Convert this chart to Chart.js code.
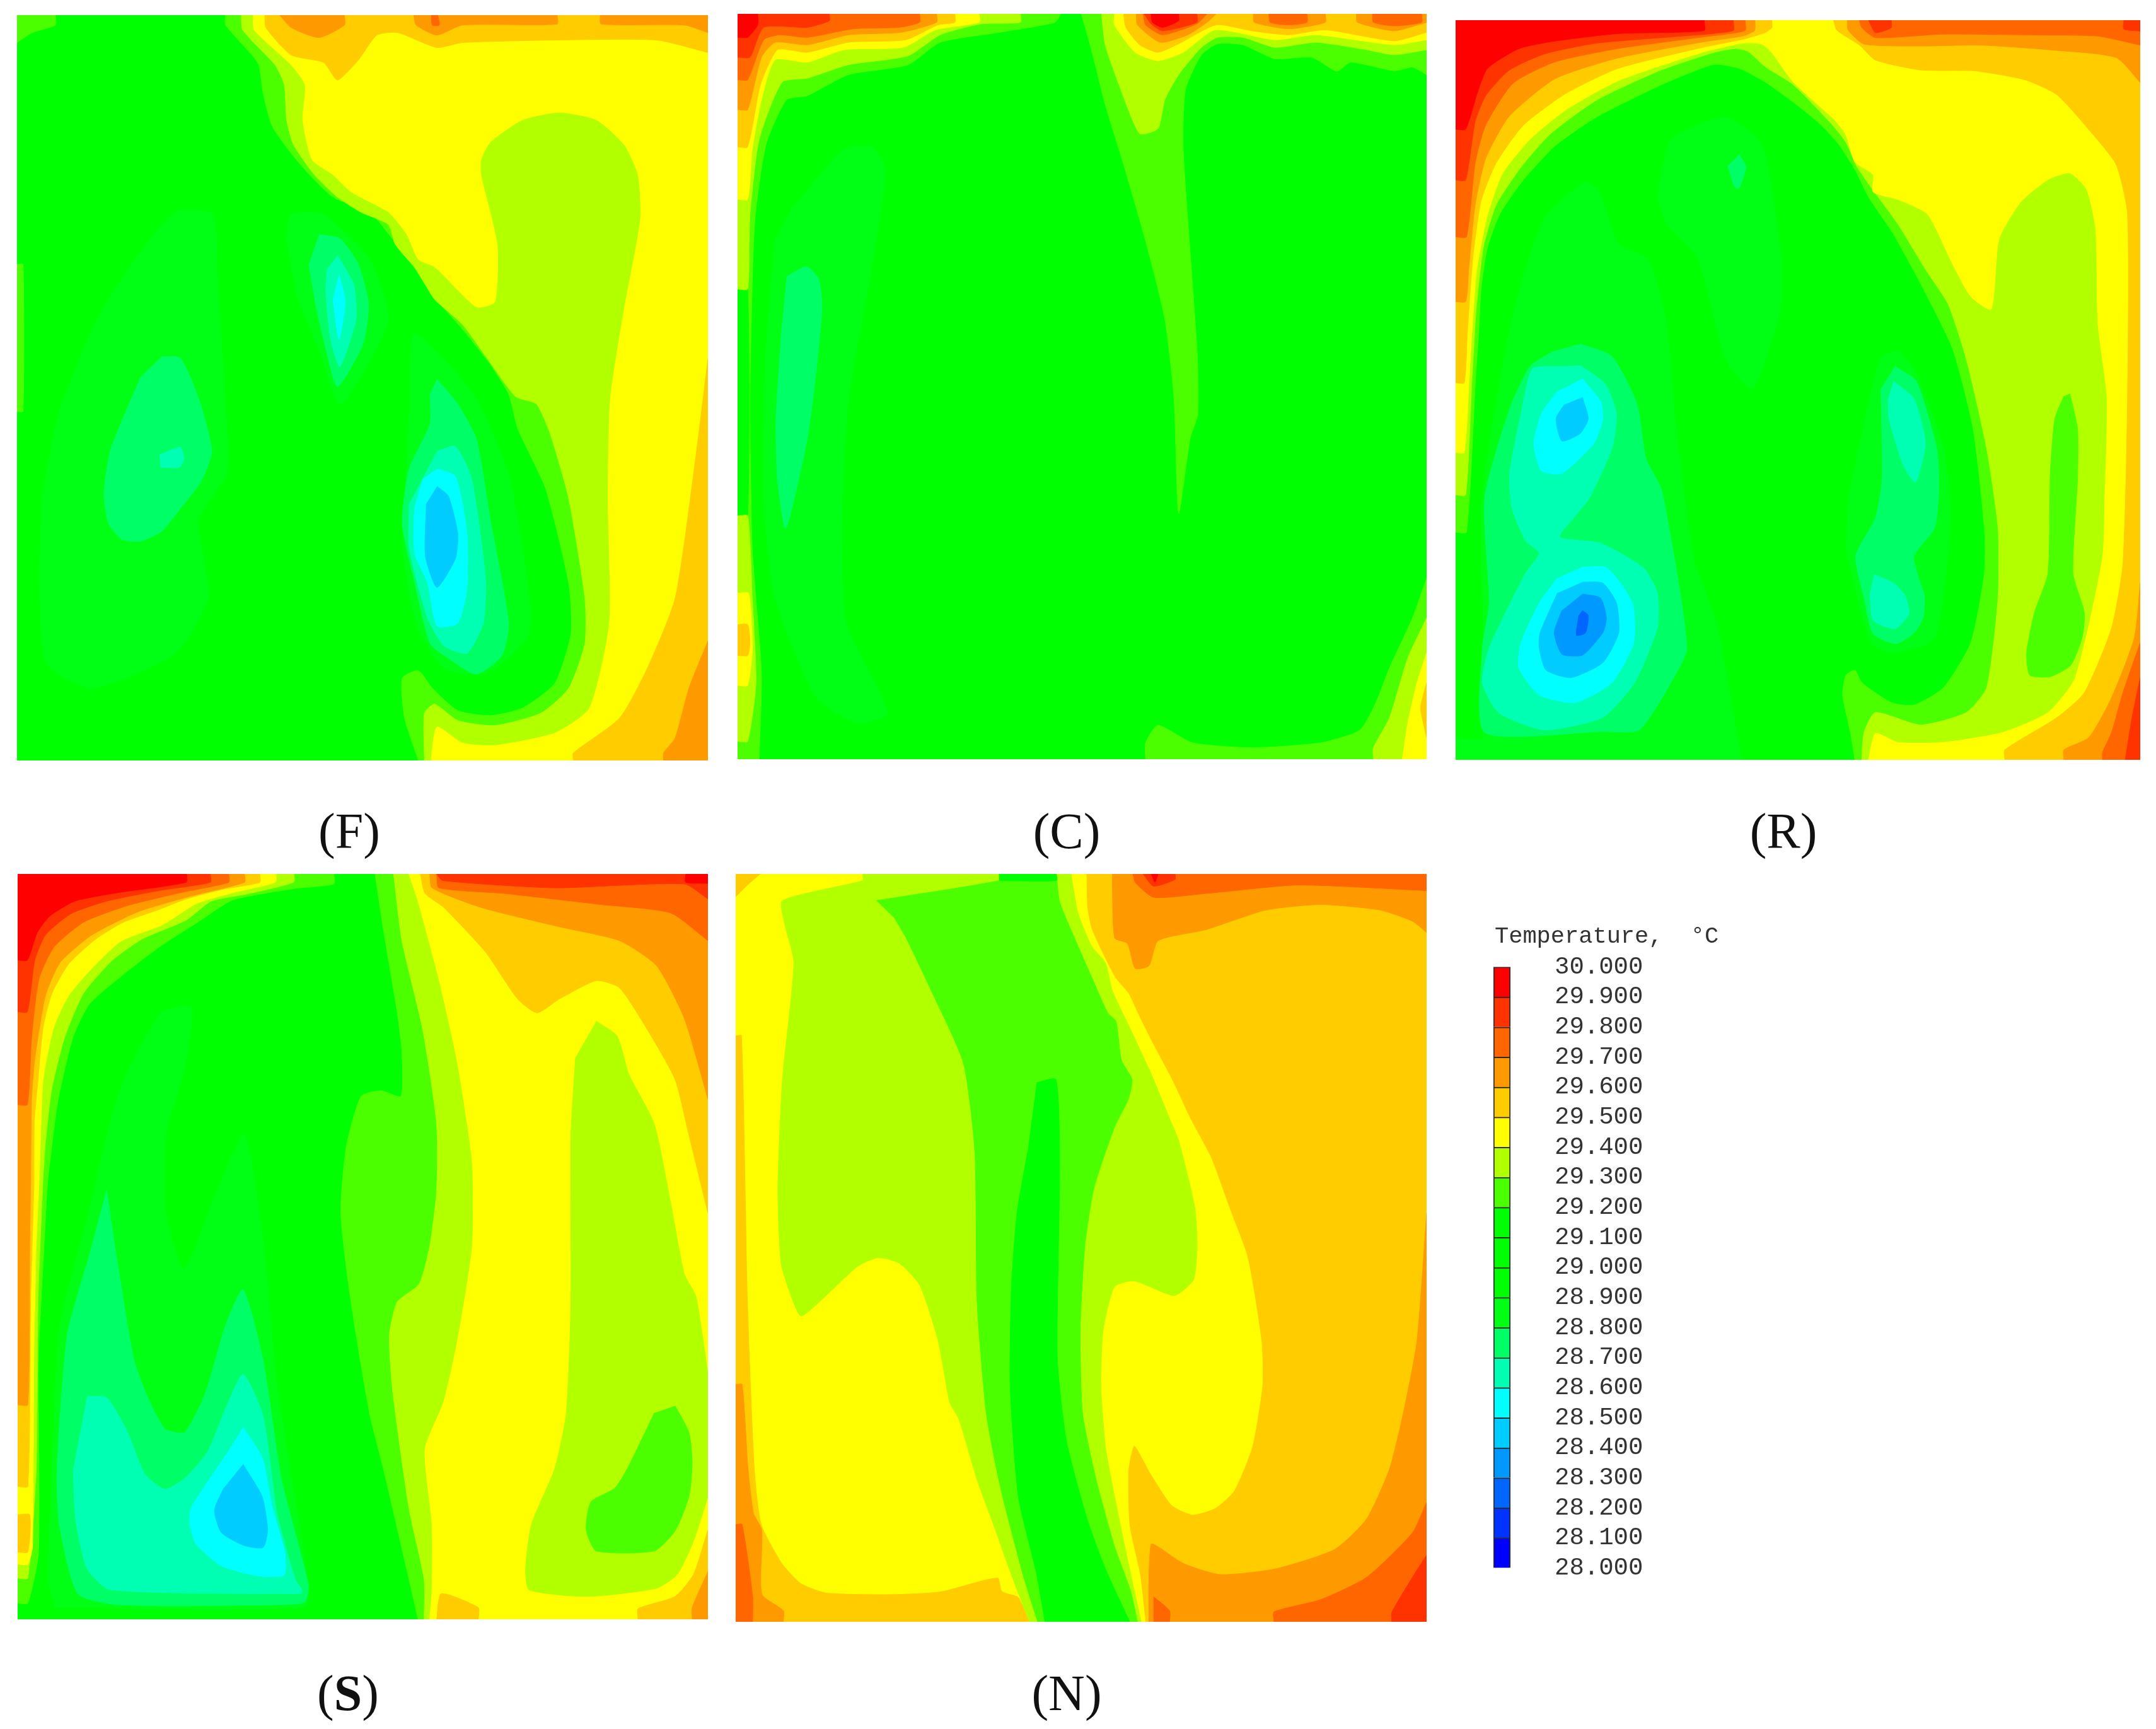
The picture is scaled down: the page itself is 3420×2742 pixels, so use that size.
<!DOCTYPE html>
<html>
<head>
<meta charset="utf-8">
<script src="https://cdn.jsdelivr.net/npm/chart.js@4"></script>
<style>
  html, body { margin: 0; padding: 0; background: #fff; }
  body { position: relative; width: 3420px; height: 2742px; overflow: hidden; }
  canvas { position: absolute; }
  .cap { position: absolute; width: 400px; text-align: center; font: 80px/90px "Liberation Serif", serif; color: #111; }
  #legendTitle { position: absolute; left: 2371px; top: 1464px; font: 37px/42px "Liberation Mono", monospace; color: #333; white-space: pre; }
</style>
</head>
<body>
<canvas id="panelF" width="1096" height="1182" style="left:27px;top:24px"></canvas>
<canvas id="panelC" width="1093" height="1182" style="left:1170px;top:22px"></canvas>
<canvas id="panelR" width="1086" height="1173" style="left:2309px;top:32px"></canvas>
<canvas id="panelS" width="1095" height="1182" style="left:28px;top:1386px"></canvas>
<canvas id="panelN" width="1096" height="1186" style="left:1167px;top:1386px"></canvas>
<canvas id="legendBar" width="270" height="1124" style="left:2360px;top:1448px"></canvas>
<div class="cap" style="left:354px;top:1273px">(F)</div>
<div class="cap" style="left:1492px;top:1273px">(C)</div>
<div class="cap" style="left:2629px;top:1273px">(R)</div>
<div class="cap" style="left:352px;top:2640px">(<b>S</b>)</div>
<div class="cap" style="left:1492px;top:2640px">(N)</div>
<div id="legendTitle">Temperature,  °C</div>
<script>
// colour bands, one per 0.1 degree, lowest first
const legendLevels = [28.0, 28.1, 28.2, 28.3, 28.4, 28.5, 28.6, 28.7, 28.8, 28.9, 29.0, 29.1, 29.2, 29.3, 29.4, 29.5, 29.6, 29.7, 29.8, 29.9];
const legendColors = ['#0000ff', '#0033ff', '#0066ff', '#0099ff', '#00ccff', '#00ffff', '#00ffb2', '#00ff66', '#00ff14', '#00ff00', '#00ff00', '#00ff00', '#4cff00', '#b2ff00', '#ffff00', '#ffcc00', '#ff9900', '#ff6600', '#ff3300', '#ff0000'];

// x min, x max, y min, y max of each cross-section
const extentF = [37, 1531, 30, 1525];
const extentC = [28, 1531, 28, 1523];
const extentR = [26, 1533, 40, 1525];
const extentS = [40, 1531, 30, 1371];
const extentN = [23, 1531, 30, 1375];

const baseF = 29.0, baseC = 29.0, baseR = 29.0, baseS = 29.0, baseN = 29.5;

// [band, contour] back to front
const regionsF = [
  [28.8, [[90,1000],[130,820],[210,640],[300,510],[380,425],[460,430],[470,560],[490,850],[490,950],[430,1040],[440,1120],[450,1200],[380,1310],[200,1380],[100,1330],[85,1150]]],
  [28.8, [[620,480],[630,430],[700,430],[800,520],[840,640],[790,740],[735,810],[690,700],[640,590]]],
  [28.8, [[885,820],[895,670],[960,720],[1030,800],[1100,950],[1145,1200],[1140,1280],[1050,1350],[960,1340],[900,1250],[870,1100]]],
  [29.2, [[488,30],[488,50],[545,110],[560,130],[570,190],[590,255],[650,330],[720,395],[800,425],[850,480],[885,520],[930,585],[1000,660],[1060,730],[1100,790],[1120,860],[1180,980],[1230,1170],[1235,1270],[1200,1370],[1130,1420],[1060,1435],[990,1425],[935,1380],[905,1345],[870,1360],[875,1440],[905,1525],[1531,1525],[1531,30]]],
  [29.3, [[522,30],[525,60],[595,130],[615,170],[620,240],[635,290],[680,350],[730,395],[780,425],[840,450],[855,490],[900,540],[940,600],[1000,650],[1055,720],[1115,795],[1160,810],[1190,870],[1230,1000],[1265,1200],[1265,1290],[1230,1380],[1170,1430],[1070,1455],[990,1445],[940,1412],[918,1430],[918,1525],[1531,1525],[1531,30]]],
  [29.4, [[548,30],[550,60],[630,130],[660,170],[655,240],[675,320],[720,350],[760,385],[840,425],[880,470],[905,520],[940,535],[1030,615],[1070,605],[1075,490],[1040,350],[1040,320],[1060,285],[1130,240],[1210,225],[1290,240],[1350,290],[1380,350],[1385,440],[1350,620],[1320,800],[1315,1000],[1318,1250],[1275,1420],[1200,1470],[1070,1495],[1000,1490],[945,1458],[932,1525],[1531,1525],[1531,30]]],
  [29.5, [[573,30],[575,55],[630,110],[700,125],[730,160],[775,120],[815,70],[860,65],[945,95],[1000,85],[1200,80],[1420,80],[1531,105],[1531,30]]],
  [29.5, [[1531,720],[1500,950],[1460,1200],[1400,1340],[1340,1440],[1240,1510],[1240,1525],[1531,1525]]],
  [29.6, [[605,30],[630,55],[690,75],[745,50],[745,30]]],
  [29.6, [[895,30],[900,50],[945,70],[1000,50],[1205,48],[1205,30]]],
  [29.6, [[1298,30],[1300,48],[1480,50],[1531,65],[1531,30]]],
  [29.6, [[1531,1285],[1490,1380],[1460,1480],[1435,1510],[1435,1525],[1531,1525]]],
  [29.7, [[933,30],[935,50],[950,50],[947,30]]],
  [29.2, [[37,30],[120,30],[120,50],[70,65],[37,85]]],
  [29.2, [[37,530],[50,530],[50,825],[37,825]]],
  [28.7, [[350,715],[390,718],[430,800],[458,905],[435,965],[390,1020],[350,1065],[305,1085],[265,1082],[235,1050],[225,990],[240,900],[305,755]]],
  [28.6, [[345,912],[390,897],[398,920],[388,937],[347,937]]],
  [28.7, [[690,470],[735,478],[775,530],[797,610],[785,690],[730,775],[705,700],[685,620],[668,530]]],
  [28.6, [[730,512],[765,570],[770,640],[735,735],[715,680],[705,590],[707,540]]],
  [28.5, [[733,550],[747,605],[733,680],[720,600]]],
  [28.7, [[945,760],[990,810],[1030,880],[1060,1040],[1100,1250],[1085,1315],[1030,1352],[970,1320],[930,1290],[895,1160],[870,1050],[885,940],[930,850],[930,790]]],
  [28.6, [[945,905],[985,895],[1020,960],[1050,1160],[1045,1250],[1010,1310],[960,1295],[925,1240],[885,1100],[885,1010]]],
  [28.5, [[945,940],[985,955],[1010,1070],[1010,1180],[990,1250],[945,1255],[925,1170],[897,1110],[897,1020],[915,960]]],
  [28.4, [[945,975],[970,995],[990,1070],[985,1120],[945,1178],[920,1115],[922,1010]]]
];

const regionsC = [
  [28.8, [[145,420],[260,300],[320,295],[350,340],[320,540],[270,800],[255,1050],[265,1250],[355,1430],[290,1450],[200,1400],[110,1200],[85,1000],[90,700],[110,480]]],
  [28.7, [[135,555],[178,535],[205,560],[212,620],[195,780],[178,890],[133,1060],[115,960],[112,840],[125,650]]],
  [29.2, [[28,1523],[75,1523],[80,1350],[60,1100],[55,800],[65,450],[90,290],[135,200],[180,192],[270,150],[400,130],[470,85],[600,65],[720,45],[733,28],[28,28]]],
  [29.2, [[778,28],[800,100],[830,210],[870,330],[920,490],[960,640],[980,800],[990,1030],[1015,880],[1032,830],[1030,700],[1000,300],[1005,180],[1040,110],[1075,88],[1130,90],[1200,118],[1280,115],[1335,143],[1365,125],[1460,142],[1500,135],[1531,150],[1531,28]]],
  [29.2, [[1531,1160],[1500,1240],[1450,1340],[1420,1410],[1385,1465],[1300,1490],[1150,1500],[1020,1490],[945,1455],[918,1490],[918,1523],[1531,1523]]],
  [29.0, [[28,580],[50,580],[50,1035],[28,1035]]],
  [29.3, [[28,1487],[50,1487],[68,1370],[60,1200],[50,1035],[28,1035]]],
  [29.4, [[28,1375],[50,1375],[60,1300],[52,1190],[28,1190]]],
  [29.5, [[28,1315],[50,1315],[55,1290],[50,1253],[28,1253]]],
  [29.3, [[28,580],[50,580],[55,430],[75,280],[125,165],[180,157],[270,130],[400,112],[470,70],[560,48],[645,45],[645,28],[28,28]]],
  [29.4, [[28,400],[50,400],[60,300],[80,200],[110,120],[180,125],[260,100],[390,95],[460,60],[555,45],[555,28],[28,28]]],
  [29.5, [[28,295],[50,295],[78,170],[115,100],[180,105],[270,85],[395,80],[465,50],[502,45],[502,28],[28,28]]],
  [29.6, [[28,220],[50,220],[80,115],[110,85],[180,90],[270,70],[385,65],[462,45],[462,28],[28,28]]],
  [29.7, [[28,160],[50,160],[85,80],[120,70],[180,75],[280,58],[380,55],[425,45],[425,28],[28,28]]],
  [29.8, [[28,115],[55,115],[85,55],[180,55],[228,42],[228,28],[28,28]]],
  [29.9, [[28,28],[72,28],[72,50],[50,75],[28,75]]],
  [29.3, [[822,28],[830,90],[860,170],[905,268],[945,258],[960,200],[990,150],[1040,95],[1075,75],[1130,75],[1200,95],[1290,85],[1400,100],[1460,110],[1531,100],[1531,28]]],
  [29.4, [[850,28],[850,50],[895,105],[945,122],[1000,105],[1070,60],[1200,80],[1290,70],[1460,90],[1531,80],[1531,28]]],
  [29.5, [[870,28],[875,55],[905,90],[945,105],[990,88],[1072,50],[1150,62],[1230,70],[1310,60],[1460,82],[1531,65],[1531,28]]],
  [29.6, [[898,28],[900,50],[950,85],[1010,70],[1052,45],[1072,28]]],
  [29.6, [[1153,28],[1155,45],[1230,58],[1310,45],[1310,28]]],
  [29.6, [[1378,28],[1380,45],[1460,62],[1531,45],[1531,28]]],
  [29.7, [[913,28],[918,50],[955,70],[1030,48],[1052,28]]],
  [29.7, [[1187,28],[1190,45],[1230,50],[1270,45],[1270,28]]],
  [29.7, [[1413,28],[1415,45],[1460,52],[1520,45],[1520,28]]],
  [29.8, [[915,28],[930,48],[955,62],[1030,45],[1030,28]]],
  [29.9, [[930,28],[933,45],[955,55],[990,42],[990,28]]],
  [29.3, [[1531,1240],[1490,1320],[1450,1440],[1415,1500],[1415,1523],[1531,1523]]],
  [29.4, [[1531,1310],[1510,1370],[1490,1450],[1478,1523],[1531,1523]]],
  [29.5, [[1531,1370],[1518,1420],[1531,1480]]]
];

const regionsR = [
  [28.8, [[26,1480],[85,1480],[85,1000],[150,640],[220,440],[310,365],[340,380],[385,490],[450,520],[490,650],[510,850],[550,1120],[600,1250],[655,1525],[26,1525]]],
  [28.8, [[470,400],[500,280],[620,235],[700,290],[740,500],[740,620],[680,780],[620,720],[560,520],[490,450]]],
  [28.8, [[890,1000],[960,720],[1000,705],[1040,750],[1100,900],[1115,1050],[1080,1280],[990,1310],[940,1290],[885,1100]]],
  [29.2, [[26,1068],[50,1068],[70,760],[77,665],[82,580],[96,496],[124,428],[175,361],[244,293],[337,234],[476,171],[594,129],[651,137],[707,164],[770,205],[830,250],[870,290],[905,340],[935,395],[990,470],[1050,570],[1120,700],[1165,860],[1190,1060],[1190,1150],[1160,1290],[1100,1380],[1035,1415],[985,1410],[920,1370],[905,1345],[885,1355],[878,1395],[895,1470],[905,1525],[1533,1525],[1533,40],[26,40]]],
  [29.3, [[26,993],[48,993],[62,760],[68,665],[71,622],[87,496],[115,411],[170,335],[235,268],[337,200],[476,141],[594,105],[642,97],[670,103],[707,133],[770,170],[855,250],[885,285],[910,335],[940,375],[1000,450],[1060,540],[1110,610],[1150,720],[1195,900],[1220,1060],[1220,1200],[1195,1380],[1150,1430],[1050,1455],[950,1430],[925,1470],[920,1525],[1533,1525],[1533,40],[26,40]]],
  [29.4, [[26,908],[45,908],[56,760],[62,665],[73,538],[96,432],[129,348],[189,280],[267,221],[383,162],[568,105],[660,86],[700,88],[722,105],[770,165],[860,240],[885,270],[905,325],[945,350],[945,385],[1000,400],[1065,430],[1120,530],[1160,595],[1205,620],[1222,480],[1270,405],[1330,360],[1378,347],[1415,380],[1435,460],[1440,650],[1460,800],[1455,1000],[1450,1120],[1390,1360],[1330,1430],[1230,1470],[1100,1490],[1000,1490],[950,1472],[935,1525],[1533,1525],[1533,40],[26,40]]],
  [29.5, [[26,768],[45,768],[52,665],[64,517],[82,403],[115,327],[175,251],[267,188],[383,137],[568,95],[660,78],[707,65],[722,55],[722,40],[26,40]]],
  [29.6, [[26,605],[48,605],[55,538],[69,411],[92,318],[143,234],[244,158],[383,116],[568,84],[656,72],[684,61],[685,40],[26,40]]],
  [29.7, [[26,475],[50,475],[69,327],[92,251],[152,167],[244,124],[383,97],[568,74],[663,61],[663,40],[26,40]]],
  [29.8, [[26,361],[48,361],[69,243],[92,192],[143,141],[221,108],[337,86],[522,72],[637,61],[637,40],[26,40]]],
  [29.9, [[26,40],[573,40],[573,61],[383,67],[244,82],[166,97],[96,137],[73,188],[48,259],[26,259]]],
  [29.5, [[858,40],[865,60],[915,90],[950,120],[1050,140],[1170,142],[1280,160],[1350,190],[1420,260],[1480,330],[1505,430],[1505,800],[1495,1130],[1470,1260],[1410,1390],[1350,1440],[1235,1505],[1235,1525],[1533,1525],[1533,40]]],
  [29.6, [[888,40],[890,60],[925,88],[1050,92],[1180,90],[1340,100],[1480,115],[1533,165],[1533,40]]],
  [29.6, [[1533,1170],[1520,1280],[1470,1400],[1420,1480],[1365,1505],[1365,1525],[1533,1525]]],
  [29.7, [[915,40],[920,55],[950,75],[1100,68],[1320,70],[1440,72],[1533,90],[1533,40]]],
  [29.7, [[1533,1290],[1495,1390],[1470,1470],[1450,1510],[1450,1525],[1533,1525]]],
  [29.8, [[935,40],[950,65],[985,55],[985,40]]],
  [29.8, [[1497,40],[1497,58],[1533,62],[1533,40]]],
  [29.8, [[1533,1360],[1515,1440],[1500,1525],[1533,1525]]],
  [29.2, [[1378,790],[1395,860],[1395,960],[1385,1150],[1410,1230],[1405,1280],[1380,1335],[1335,1358],[1290,1355],[1283,1310],[1300,1230],[1330,1150],[1335,950],[1345,840],[1365,795]]],
  [28.7, [[300,690],[370,715],[425,810],[445,920],[480,985],[535,1300],[500,1370],[430,1465],[350,1468],[90,1470],[85,1300],[100,1210],[90,1000],[145,820],[190,735],[240,705]]],
  [28.6, [[300,733],[355,770],[380,830],[370,900],[320,1000],[285,1040],[255,1078],[345,1090],[440,1140],[470,1190],[470,1260],[420,1370],[350,1440],[220,1465],[120,1430],[85,1370],[100,1300],[180,1150],[210,1110],[180,1085],[150,1020],[145,950],[170,830],[195,740],[250,735]]],
  [28.5, [[305,760],[345,805],[350,840],[330,890],[260,950],[215,945],[198,890],[215,830],[250,785]]],
  [28.4, [[305,797],[318,840],[300,870],[260,885],[247,840],[265,812]]],
  [28.5, [[305,1138],[360,1140],[415,1210],[418,1290],[370,1370],[290,1410],[210,1395],[165,1340],[170,1290],[210,1210],[250,1160]]],
  [28.4, [[305,1168],[350,1170],[380,1210],[385,1270],[350,1330],[280,1360],[225,1345],[210,1300],[212,1270],[250,1190]]],
  [28.3, [[305,1192],[345,1200],[358,1240],[350,1270],[305,1315],[260,1313],[243,1270],[260,1225]]],
  [28.2, [[305,1225],[318,1235],[312,1270],[292,1275],[297,1235]]],
  [28.7, [[650,310],[665,335],[650,377],[640,375],[625,332]]],
  [28.7, [[993,735],[1040,765],[1085,900],[1090,980],[1080,1060],[1035,1115],[1045,1160],[1058,1195],[1055,1240],[1035,1270],[995,1292],[945,1272],[925,1200],[907,1115],[950,1040],[965,960],[962,780]]],
  [28.6, [[990,765],[1035,800],[1060,890],[1038,968],[1010,930],[980,840],[978,800]]],
  [28.6, [[947,1153],[990,1170],[1015,1195],[1024,1232],[993,1262],[945,1245],[938,1190]]]
];

const regionsS = [
  [28.8, [[105,1300],[130,850],[190,650],[260,420],[350,280],[415,270],[400,380],[360,500],[360,640],[400,740],[470,600],[530,500],[570,690],[600,950],[668,1310],[660,1350],[120,1350]]],
  [29.2, [[40,1342],[62,1342],[85,1250],[85,900],[97,700],[104,590],[109,552],[127,438],[159,325],[195,264],[268,211],[345,162],[436,113],[504,77],[640,56],[723,48],[723,30],[40,30]]],
  [29.3, [[40,1297],[62,1297],[80,1100],[84,800],[94,590],[100,514],[113,419],[141,325],[182,245],[245,185],[309,147],[404,113],[458,79],[536,66],[636,45],[637,30],[40,30]]],
  [29.4, [[40,1272],[62,1272],[72,1240],[75,900],[80,700],[86,590],[89,514],[95,400],[118,306],[150,249],[200,200],[263,151],[354,121],[427,83],[504,64],[597,45],[598,30],[40,30]]],
  [29.5, [[40,1250],[62,1250],[66,1183],[40,1183]]],
  [29.5, [[40,1132],[62,1132],[68,800],[75,590],[76,476],[84,400],[95,306],[114,245],[150,192],[209,147],[268,117],[345,94],[404,75],[481,58],[563,45],[563,30],[40,30]]],
  [29.6, [[40,985],[62,985],[66,700],[68,590],[70,438],[77,363],[100,249],[132,189],[200,140],[300,98],[413,70],[530,45],[530,30],[40,30]]],
  [29.7, [[40,445],[61,445],[70,325],[86,219],[118,162],[182,117],[277,87],[390,64],[496,45],[496,30],[40,30]]],
  [29.8, [[40,278],[61,278],[77,185],[100,140],[154,102],[232,79],[345,60],[456,45],[456,30],[40,30]]],
  [29.9, [[40,30],[405,30],[404,45],[254,64],[163,79],[109,106],[82,136],[61,185],[40,185]]],
  [29.2, [[812,30],[830,130],[860,280],[870,350],[868,430],[825,420],[782,430],[750,520],[738,640],[760,800],[800,1000],[830,1100],[880,1280],[905,1371],[1531,1371],[1531,30]]],
  [29.3, [[852,30],[870,150],[915,310],[945,480],[945,600],[930,700],[907,768],[860,800],[843,860],[850,960],[885,1170],[918,1300],[918,1371],[1531,1371],[1531,30]]],
  [29.4, [[885,30],[905,80],[950,220],[990,370],[1022,550],[1022,700],[990,870],[960,980],[920,1065],[935,1200],[935,1320],[930,1371],[1531,1371],[1531,30]]],
  [29.5, [[910,30],[920,65],[960,90],[1050,170],[1120,255],[1162,280],[1210,255],[1290,222],[1340,235],[1400,310],[1460,400],[1490,500],[1531,640],[1531,30]]],
  [29.5, [[1531,1210],[1500,1290],[1460,1330],[1380,1352],[1380,1371],[1531,1371]]],
  [29.5, [[945,1371],[955,1325],[1035,1350],[1035,1371]]],
  [29.6, [[930,30],[935,55],[1040,90],[1210,125],[1340,150],[1420,195],[1480,290],[1531,435],[1531,30]]],
  [29.6, [[1531,1285],[1497,1350],[1497,1371],[1531,1371]]],
  [29.7, [[945,30],[950,55],[1090,65],[1300,85],[1450,100],[1531,150],[1531,30]]],
  [29.8, [[945,30],[958,42],[1200,55],[1480,48],[1531,75],[1531,30]]],
  [29.9, [[1483,30],[1483,45],[1531,47],[1531,30]]],
  [29.3, [[1290,295],[1335,322],[1360,390],[1415,480],[1450,620],[1480,750],[1505,790],[1531,930],[1531,1150],[1500,1230],[1465,1290],[1420,1315],[1270,1330],[1145,1318],[1137,1280],[1150,1200],[1200,1100],[1225,1000],[1235,800],[1235,500],[1245,360]]],
  [29.2, [[1460,987],[1490,1035],[1497,1090],[1490,1150],[1460,1212],[1415,1248],[1290,1248],[1268,1210],[1278,1160],[1330,1135],[1360,1095],[1415,1000]]],
  [28.7, [[232,598],[250,700],[290,900],[320,970],[358,1028],[400,1035],[445,965],[490,840],[527,778],[570,905],[610,1120],[668,1310],[660,1340],[600,1345],[260,1345],[170,1325],[130,1200],[125,1100],[147,860],[188,735]]],
  [28.6, [[190,970],[232,972],[275,1030],[315,1110],[358,1137],[400,1118],[450,1070],[490,990],[527,930],[570,1005],[600,1180],[640,1300],[655,1320],[650,1325],[240,1318],[190,1280],[165,1190],[160,1100]]],
  [28.5, [[527,1025],[568,1080],[590,1170],[617,1250],[615,1292],[560,1293],[480,1275],[425,1235],[412,1200],[415,1170],[490,1075]]],
  [28.4, [[527,1092],[568,1150],[580,1210],[570,1242],[528,1238],[480,1215],[465,1175],[485,1135]]]
];

const regionsN = [
  [29.4, [[23,320],[37,320],[50,800],[65,1100],[80,1200],[125,1270],[165,1305],[220,1322],[360,1325],[470,1320],[595,1295],[605,1320],[640,1330],[665,1375],[917,1375],[905,1290],[882,1200],[880,1100],[893,1058],[930,1110],[975,1165],[1020,1182],[1070,1170],[1110,1140],[1150,1060],[1172,950],[1170,870],[1140,720],[1100,630],[1060,540],[1015,470],[975,400],[930,330],[900,280],[880,245],[850,215],[800,130],[790,90],[788,30],[78,30],[50,50],[23,72]]],
  [29.3, [[300,30],[300,42],[125,78],[130,120],[150,190],[125,400],[115,600],[122,730],[140,780],[165,825],[205,800],[290,735],[335,720],[380,730],[425,770],[465,870],[490,980],[510,1010],[550,1120],[590,1210],[620,1280],[650,1345],[665,1375],[908,1375],[880,1270],[850,1150],[830,1060],[820,950],[825,850],[850,772],[893,762],[980,788],[1022,760],[1030,700],[1025,630],[990,510],[970,470],[930,390],[885,310],[845,240],[830,190],[800,160],[770,100],[755,30]]],
  [29.2, [[330,78],[598,42],[598,30],[723,30],[730,80],[765,150],[805,225],[835,280],[853,295],[865,365],[888,400],[880,435],[850,485],[805,595],[785,700],[775,850],[780,1000],[810,1120],[850,1240],[885,1320],[900,1375],[682,1375],[650,1290],[600,1130],[570,1000],[550,800],[545,530],[520,370],[450,240],[395,145],[370,110]]],
  [29.0, [[680,405],[722,400],[730,560],[725,900],[745,1050],[790,1190],[830,1280],[883,1375],[698,1375],[680,1290],[640,1150],[622,950],[625,770],[637,640],[660,530]]],
  [29.0, [[598,30],[723,30],[723,42],[598,42]]],
  [29.6, [[845,30],[850,145],[878,155],[895,200],[925,195],[945,150],[1050,130],[1180,95],[1300,85],[1430,95],[1500,115],[1531,135],[1531,30]]],
  [29.6, [[1531,640],[1510,870],[1480,1000],[1450,1100],[1400,1190],[1330,1245],[1200,1280],[1080,1290],[1000,1270],[945,1240],[930,1235],[925,1290],[925,1375],[1531,1375]]],
  [29.6, [[23,948],[37,948],[50,1100],[62,1180],[80,1210],[80,1325],[127,1355],[127,1375],[23,1375]]],
  [29.7, [[890,30],[895,45],[935,72],[1050,65],[1250,50],[1531,60],[1531,30]]],
  [29.7, [[1531,1160],[1500,1215],[1400,1295],[1300,1335],[1198,1357],[1198,1375],[1531,1375]]],
  [29.7, [[935,1330],[970,1355],[970,1375],[935,1375]]],
  [29.7, [[23,1200],[37,1200],[60,1330],[60,1375],[23,1375]]],
  [29.8, [[912,30],[935,52],[982,40],[982,30]]],
  [29.8, [[1531,1255],[1500,1295],[1455,1358],[1455,1375],[1531,1375]]],
  [29.9, [[930,30],[938,45],[945,30]]]
];

function bandColor(band) {
  return legendColors[Math.round((band - 28) * 10)];
}

// contour points lying on the frame get doubled so the spline keeps them sharp
function toPoints(contour, extent) {
  const pts = [];
  contour.forEach(function(p) {
    pts.push({x: p[0], y: p[1]});
    if (p[0] === extent[0] || p[0] === extent[1] || p[1] === extent[2] || p[1] === extent[3]) {
      pts.push({x: p[0], y: p[1]});
    }
  });
  return pts;
}

function drawPanel(id, extent, base, regions) {
  const frame = [[extent[0], extent[2]], [extent[1], extent[2]], [extent[1], extent[3]], [extent[0], extent[3]]];
  const all = [[base, frame]].concat(regions);
  const datasets = all.map(function(r, i) {
    const color = bandColor(r[0]);
    return {
      data: toPoints(r[1], extent),
      showLine: true,
      fill: 'shape',
      tension: 0.2,
      backgroundColor: color,
      borderColor: color,
      borderWidth: 1,
      pointRadius: 0,
      order: all.length - i
    };
  });
  new Chart(document.getElementById(id), {
    type: 'scatter',
    data: {datasets: datasets},
    options: {
      responsive: false,
      animation: false,
      events: [],
      layout: {padding: 0},
      plugins: {legend: {display: false}, tooltip: {enabled: false}},
      scales: {
        x: {type: 'linear', display: false, min: extent[0], max: extent[1]},
        y: {type: 'linear', display: false, min: extent[2], max: extent[3], reverse: true}
      }
    }
  });
}

drawPanel('panelF', extentF, baseF, regionsF);
drawPanel('panelC', extentC, baseC, regionsC);
drawPanel('panelR', extentR, baseR, regionsR);
drawPanel('panelS', extentS, baseS, regionsS);
drawPanel('panelN', extentN, baseN, regionsN);

new Chart(document.getElementById('legendBar'), {
  type: 'bar',
  data: {
    labels: ['T'],
    datasets: legendLevels.map(function(lo, i) {
      return {
        data: [[lo, lo + 0.1]],
        backgroundColor: legendColors[i],
        borderColor: '#2a2a2a',
        borderWidth: 2,
        barPercentage: 1,
        categoryPercentage: 1,
        grouped: false
      };
    })
  },
  options: {
    responsive: false,
    animation: false,
    events: [],
    layout: {padding: {left: 9, right: 0}},
    plugins: {legend: {display: false}, tooltip: {enabled: false}},
    scales: {
      x: {display: false},
      y: {
        position: 'right',
        min: 28,
        max: 30,
        border: {display: false},
        grid: {display: false},
        afterFit: function(axis) { axis.width = 234; },
        ticks: {
          stepSize: 0.1,
          autoSkip: false,
          padding: 62,
          color: '#333',
          font: {family: '"Liberation Mono", monospace', size: 39},
          callback: function(value) { return value.toFixed(3); }
        }
      }
    }
  }
});
</script>
</body>
</html>
